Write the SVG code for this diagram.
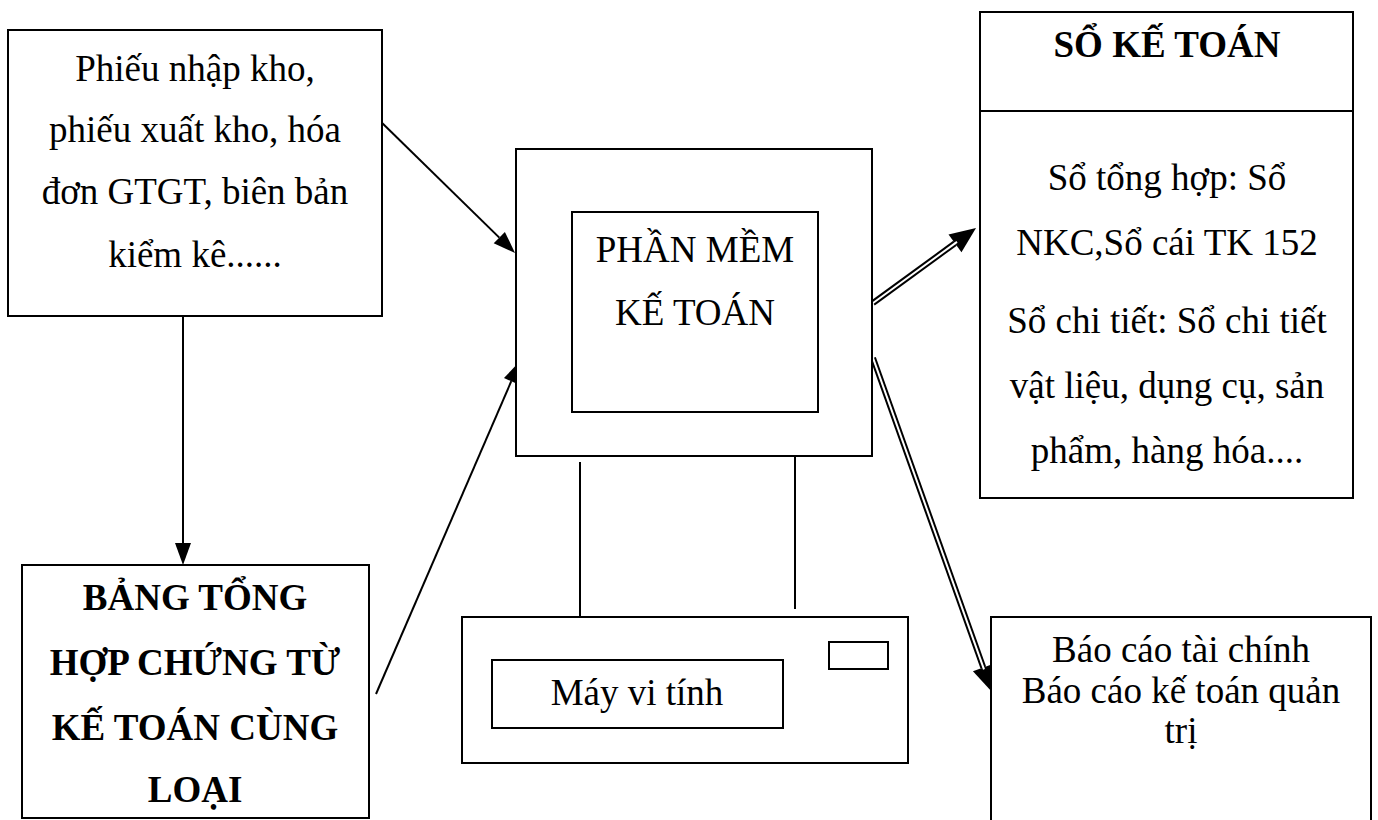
<svg xmlns="http://www.w3.org/2000/svg" width="1378" height="820" viewBox="0 0 1378 820">
<style>
.box{fill:#fff;stroke:#000;stroke-width:2}
.t{font-family:"Liberation Serif","Times New Roman",serif;font-size:37px;fill:#000;text-anchor:middle}
.b{font-weight:bold}
.ln{stroke:#000;stroke-width:2;fill:none}
.dbl{stroke:#000;stroke-width:6;fill:none}
.dbw{stroke:#fff;stroke-width:2;fill:none}
</style>
<defs>
<marker id="headS" markerUnits="userSpaceOnUse" viewBox="0 -9 23 18" markerWidth="23" markerHeight="18" refX="0" refY="0" orient="auto" overflow="visible">
<path d="M0,-8 L22,0 L0,8 z" fill="#000"/>
</marker>
<marker id="headL" markerUnits="userSpaceOnUse" viewBox="0 -12 27 24" markerWidth="27" markerHeight="24" refX="0" refY="0" orient="auto" overflow="visible">
<path d="M0,-11 L26,0 L0,11 z" fill="#000"/>
</marker>
</defs>
<rect width="1378" height="820" fill="#fff"/>

<g id="connectors">
<line class="ln" x1="183" y1="316" x2="183" y2="543" marker-end="url(#headS)"/>
<line class="ln" x1="376" y1="117" x2="499.3" y2="237.6" marker-end="url(#headS)"/>
<line class="ln" x1="376" y1="694" x2="511.3" y2="381.2" marker-end="url(#headS)"/>
<line class="dbl" x1="873" y1="303" x2="955" y2="243.3" marker-end="url(#headL)"/>
<line class="dbw" x1="870" y1="305.2" x2="957" y2="241.9"/>
<line class="dbl" x1="873" y1="358" x2="983.3" y2="667.5" marker-end="url(#headL)"/>
<line class="dbw" x1="872" y1="355.2" x2="984" y2="669.4"/>
<line class="ln" x1="580" y1="462" x2="580" y2="617"/>
<line class="ln" x1="795" y1="454" x2="795" y2="609"/>
</g>

<g id="chung-tu">
<rect class="box" x="8" y="30" width="374" height="286"/>
<text class="t" x="195" y="81">Phiếu nhập kho,</text>
<text class="t" x="195" y="142">phiếu xuất kho, hóa</text>
<text class="t" x="195" y="204">đơn GTGT, biên bản</text>
<text class="t" x="195" y="267">kiểm kê......</text>
</g>

<g id="bang-tong-hop">
<rect class="box" x="22" y="565" width="347" height="253"/>
<text class="t b" x="195" y="610">BẢNG TỔNG</text>
<text class="t b" x="195" y="675">HỢP CHỨNG TỪ</text>
<text class="t b" x="195" y="740">KẾ TOÁN CÙNG</text>
<text class="t b" x="195" y="802">LOẠI</text>
</g>

<g id="phan-mem">
<rect class="box" x="516" y="149" width="356" height="307"/>
<rect class="box" x="572" y="212" width="246" height="200"/>
<text class="t" x="695" y="262">PHẦN MỀM</text>
<text class="t" x="695" y="325">KẾ TOÁN</text>
</g>

<g id="may-vi-tinh">
<rect class="box" x="462" y="617" width="446" height="146"/>
<rect class="box" x="492" y="660" width="291" height="68"/>
<rect class="box" x="829" y="642" width="59" height="27"/>
<text class="t" x="637" y="705">Máy vi tính</text>
</g>

<g id="so-ke-toan">
<rect class="box" x="980" y="12" width="373" height="486"/>
<line class="ln" x1="980" y1="111" x2="1353" y2="111"/>
<text class="t b" x="1167" y="57">SỔ KẾ TOÁN</text>
<text class="t" x="1167" y="190">Sổ tổng hợp: Sổ</text>
<text class="t" x="1167" y="255">NKC,Sổ cái TK 152</text>
<text class="t" x="1167" y="333">Sổ chi tiết: Sổ chi tiết</text>
<text class="t" x="1167" y="398">vật liệu, dụng cụ, sản</text>
<text class="t" x="1167" y="463">phẩm, hàng hóa....</text>
</g>

<g id="bao-cao">
<rect class="box" x="991" y="617" width="380" height="215"/>
<text class="t" x="1181" y="662">Báo cáo tài chính</text>
<text class="t" x="1181" y="703">Báo cáo kế toán quản</text>
<text class="t" x="1181" y="743">trị</text>
</g>
</svg>
